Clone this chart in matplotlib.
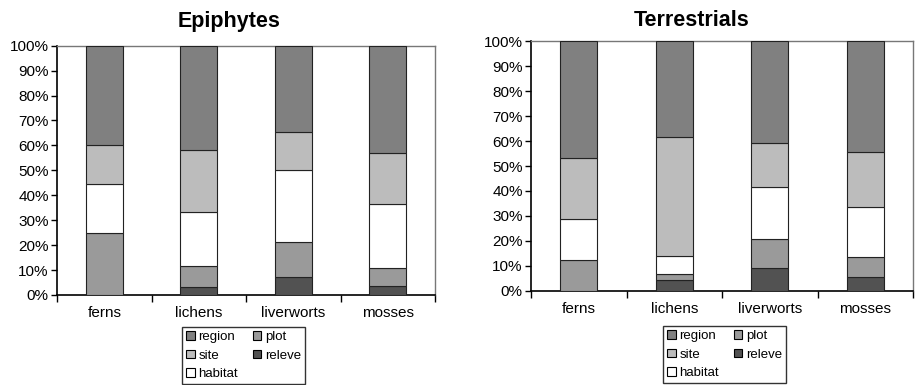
import matplotlib
matplotlib.use('Agg')
import matplotlib.pyplot as plt
import numpy as np
from matplotlib.patches import Patch
from matplotlib.ticker import FixedLocator, PercentFormatter

groups = ["ferns", "lichens", "liverworts", "mosses"]
layers = ["releve", "plot", "habitat", "site", "region"]

# percent share of each level, bottom to top
epi_releve = [0.0, 3.3, 7.4, 3.7]
epi_plot = [24.7, 8.3, 14.0, 7.3]
epi_habitat = [19.8, 21.8, 28.7, 25.5]
epi_site = [15.8, 24.9, 15.4, 20.6]
epi_region = [39.7, 41.7, 34.5, 42.9]

ter_releve = [0.0, 4.3, 9.0, 5.6]
ter_plot = [12.2, 2.4, 11.7, 8.0]
ter_habitat = [16.5, 7.3, 21.0, 19.8]
ter_site = [24.5, 47.8, 17.4, 22.2]
ter_region = [46.8, 38.2, 40.9, 44.4]

colors = {"region": "#808080", "plot": "#9a9a9a", "site": "#bcbcbc",
          "releve": "#525252", "habitat": "#ffffff"}

plt.rcParams['font.family'] = ['Liberation Sans', 'DejaVu Sans']

W, H = 915, 385
fig = plt.figure(figsize=(W / 100, H / 100), dpi=100)


def px_axes(x0, x1, y0, y1):
    return fig.add_axes([x0 / W, 1 - y1 / H, (x1 - x0) / W, (y1 - y0) / H])


def draw(ax, data):
    x = np.arange(len(groups))
    bottom = np.zeros(len(groups))
    for name in layers:
        vals = np.array(data[name])
        ax.bar(x, vals, 0.39, bottom=bottom, color=colors[name],
               edgecolor="#222222", linewidth=0.8, zorder=3)
        bottom += vals
    ax.set_xlim(-0.5, len(groups) - 0.5)
    ax.set_ylim(0, 100)
    ax.yaxis.set_major_locator(FixedLocator(np.arange(0, 101, 10)))
    ax.yaxis.set_major_formatter(PercentFormatter(decimals=0))
    ax.tick_params(axis='y', length=4, width=1, labelsize=11, pad=2)
    ax.xaxis.set_major_locator(FixedLocator(np.arange(-0.5, len(groups), 1)))
    ax.set_xticklabels([])
    ax.set_xticks(x, minor=True)
    ax.set_xticklabels(groups, minor=True)
    ax.tick_params(axis='x', which='major', length=5, width=1, direction='out')
    ax.tick_params(axis='x', which='minor', length=0, labelsize=11, pad=8)
    for s in ["top", "right"]:
        ax.spines[s].set_color("#777777")
        ax.spines[s].set_linewidth(1)
    for s in ["left", "bottom"]:
        ax.spines[s].set_color("black")
        ax.spines[s].set_linewidth(1.2)


ax1 = px_axes(57, 435, 45.7, 295)
draw(ax1, {"releve": epi_releve, "plot": epi_plot, "habitat": epi_habitat,
           "site": epi_site, "region": epi_region})
ax2 = px_axes(531, 913, 41.3, 290.7)
draw(ax2, {"releve": ter_releve, "plot": ter_plot, "habitat": ter_habitat,
           "site": ter_site, "region": ter_region})

fig.text(229 / W, 1 - 22 / H, "Epiphytes", ha='center', va='center',
         fontsize=15.5, fontweight='bold')
fig.text(692 / W, 1 - 20 / H, "Terrestrials", ha='center', va='center',
         fontsize=15.5, fontweight='bold')

order = ["region", "site", "habitat", "plot", "releve"]
for lx, ly in [(182, 327), (663, 326)]:
    handles = [Patch(facecolor=colors[n], edgecolor="black", linewidth=0.8, label=n)
               for n in order]
    leg = fig.legend(handles=handles, ncol=2, loc='upper left',
                     bbox_to_anchor=(lx / W, 1 - ly / H), fontsize=9.5,
                     frameon=True, fancybox=False, borderaxespad=0,
                     handlelength=0.65, handleheight=0.65, handletextpad=0.3,
                     columnspacing=1.1, labelspacing=0.5, borderpad=0.3)
    leg.get_frame().set_edgecolor("black")
    leg.get_frame().set_linewidth(1)

fig.savefig("out.png", dpi=100)
